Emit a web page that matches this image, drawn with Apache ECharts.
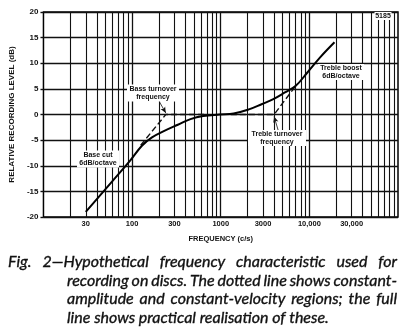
<!DOCTYPE html>
<html>
<head>
<meta charset="utf-8">
<script src="https://cdn.jsdelivr.net/npm/echarts@6/dist/echarts.min.js"></script>
<style>
  html, body { margin: 0; padding: 0; background: #fff; }
  #chart { width: 406px; height: 334px; }
</style>
</head>
<body>
<div id="chart"></div>
<script>
// Recording level (dB) against frequency (c/s)
const practicalCurve = [
  [30, -19], [60, -13], [95, -9], [129, -6.1], [166, -4.5], [231, -3.2],
  [328, -2], [456, -0.9], [634, -0.3], [977, 0], [1400, 0.2], [2080, 1],
  [2890, 2], [3920, 3], [5300, 4.3], [7020, 5.6], [9500, 8.2],
  [13300, 11.2], [19200, 14.1]
];
// constant-amplitude / constant-velocity asymptotes (dotted)
const bassAsymptote = [[125, -6], [240, 0], [650, 0]];
const trebleAsymptote = [[1300, 0], [4000, 0], [7020, 5.6]];

// arrows from the notes to the turnover corners
const bassArrow = [[203, 2.5], [240, 0.3]];
const trebleArrow = [[4450, -3.1], [4000, -0.4]];

const freqTicks = [10, 30, 100, 300, 1000, 3000, 10000, 30000];
const freqTickLabels = ['10', '30', '100', '300', '1000', '3000', '10,000', '30,000'];
const levelMin = -20, levelMax = 20, levelStep = 5;

const decades = [10, 100, 1000, 10000];
const multiples = [1, 2, 3, 4, 5, 6, 7, 8, 9];

const AXIS_FONT = "'Liberation Sans', Arial, sans-serif";
const NARROW_FONT = "'Liberation Sans Narrow', 'Liberation Sans', Arial, sans-serif";
const INK = '#111';

// log-paper vertical rules, with labels on the chosen frequencies
const verticalRules = [];
decades.forEach(d => multiples.forEach(m => {
  const f = d * m;
  if (f === 10) return;
  const idx = freqTicks.indexOf(f);
  verticalRules.push({
    xAxis: f,
    lineStyle: { color: INK, width: m === 1 ? 1.3 : 1.1, type: 'solid' },
    label: idx >= 0 ? {
      show: true, position: 'start', distance: 3,
      formatter: freqTickLabels[idx],
      fontFamily: AXIS_FONT, fontSize: 7.5, fontWeight: 'bold', color: INK
    } : { show: false }
  });
}));
// the "10" label sits on the left frame
verticalRules.push({
  xAxis: 10, lineStyle: { opacity: 0 },
  label: { show: true, position: 'start', distance: 3, formatter: freqTickLabels[0],
    fontFamily: AXIS_FONT, fontSize: 7.5, fontWeight: 'bold', color: INK }
});

// caption, justified word by word
const measureCtx = document.createElement('canvas').getContext('2d');
const CAP_SIZE = 16, CAP_FAMILY = 'Lato';
function captionLine(text, x0, x1, y, justify) {
  measureCtx.font = 'italic ' + CAP_SIZE + 'px ' + CAP_FAMILY;
  const words = text.split(' ');
  const widths = words.map(w => measureCtx.measureText(w).width);
  const total = widths.reduce((a, b) => a + b, 0);
  const gap = (justify && words.length > 1)
    ? (x1 - x0 - total) / (words.length - 1)
    : measureCtx.measureText(' ').width;
  let x = x0;
  return words.map((w, i) => {
    const el = {
      type: 'text', z: 100,
      style: { text: w, x: x, y: y, fill: INK, fontStyle: 'italic',
        fontSize: CAP_SIZE, fontFamily: CAP_FAMILY, verticalAlign: 'middle',
        stroke: INK, lineWidth: 0.35 }
    };
    x += widths[i] + gap;
    return el;
  });
}

// small boxed note drawn over the ruling
function note(text, x, y, w, h) {
  return {
    type: 'group', z: 100,
    children: [
      { type: 'rect', z: 100, shape: { x: x - w / 2, y: y - h / 2, width: w, height: h },
        style: { fill: '#fff' } },
      { type: 'text', z: 101,
        style: {
          text: text, x: x, y: y, fill: INK, align: 'center', verticalAlign: 'middle',
          fontFamily: AXIS_FONT, fontSize: 7, fontWeight: 'bold', lineHeight: 7.5
        } }
    ]
  };
}

const chart = echarts.init(document.getElementById('chart'), null, { renderer: 'canvas' });

const arrowLine = (pts) => [{ coord: pts[0] }, { coord: pts[1] }];

chart.setOption({
  animation: false,
  backgroundColor: '#fff',
  grid: {
    left: 36, right: 8, top: 12, bottom: 117,
    show: true, borderColor: '#000', borderWidth: 1.5, backgroundColor: 'transparent'
  },
  xAxis: {
    type: 'log', logBase: 10, min: 10, max: 100000,
    axisLine: { show: false }, axisTick: { show: false },
    axisLabel: { show: false }, splitLine: { show: false },
    name: 'FREQUENCY (c/s)', nameLocation: 'middle', nameGap: 18,
    nameTextStyle: { fontFamily: NARROW_FONT, fontSize: 7.5, fontWeight: 'bold', color: INK }
  },
  yAxis: {
    type: 'value', min: levelMin, max: levelMax, interval: levelStep,
    axisLine: { show: false },
    axisTick: { show: true, length: 3, inside: false, lineStyle: { color: INK, width: 1.4 } },
    axisLabel: { fontFamily: AXIS_FONT, fontSize: 8, fontWeight: 'bold', color: INK, margin: 5 },
    splitLine: { show: true, lineStyle: { color: INK, width: 1.4 } },
    name: 'RELATIVE RECORDING LEVEL (dB)', nameLocation: 'middle', nameGap: 20,
    nameTextStyle: { fontFamily: AXIS_FONT, fontSize: 8, fontWeight: 'bold', color: INK }
  },
  series: [
    {
      type: 'line', data: [], z: 1, silent: true,
      markLine: { silent: true, symbol: 'none', animation: false, data: verticalRules }
    },
    {
      type: 'line', data: bassAsymptote, showSymbol: false, z: 8, silent: true,
      lineStyle: { color: INK, width: 1.4, type: [6, 3] }
    },
    {
      type: 'line', data: trebleAsymptote, showSymbol: false, z: 8, silent: true,
      lineStyle: { color: INK, width: 1.4, type: [6, 3] }
    },
    {
      type: 'line', data: practicalCurve, showSymbol: false, z: 10, silent: true,
      smooth: 0.4,
      lineStyle: { color: '#000', width: 2 }
    },
    {
      type: 'line', data: [], z: 9, silent: true,
      markLine: {
        silent: true, animation: false, symbol: ['none', 'arrow'], symbolSize: [4, 6],
        lineStyle: { color: INK, width: 0.8, type: 'solid' }, label: { show: false },
        data: [arrowLine(bassArrow), arrowLine(trebleArrow)]
      }
    }
  ],
  graphic: [
    note('Bass turnover\nfrequency', 153, 93, 52, 17),
    note('Base cut\n6dB/octave', 98, 159, 42, 17),
    note('Treble turnover\nfrequency', 277, 138, 58, 16),
    note('Treble boost\n6dB/octave', 341, 72, 46, 16),
    note('5185', 383, 16, 17, 8),
    ...captionLine('Fig. 2\u2014Hypothetical frequency characteristic used for', 8, 397, 262, true),
    ...captionLine('recording on discs. The dotted line shows constant-', 67, 397, 281, true),
    ...captionLine('amplitude and constant-velocity regions; the full', 67, 397, 299, true),
    ...captionLine('line shows practical realisation of these.', 67, 397, 318, false)
  ]
});
</script>
</body>
</html>
